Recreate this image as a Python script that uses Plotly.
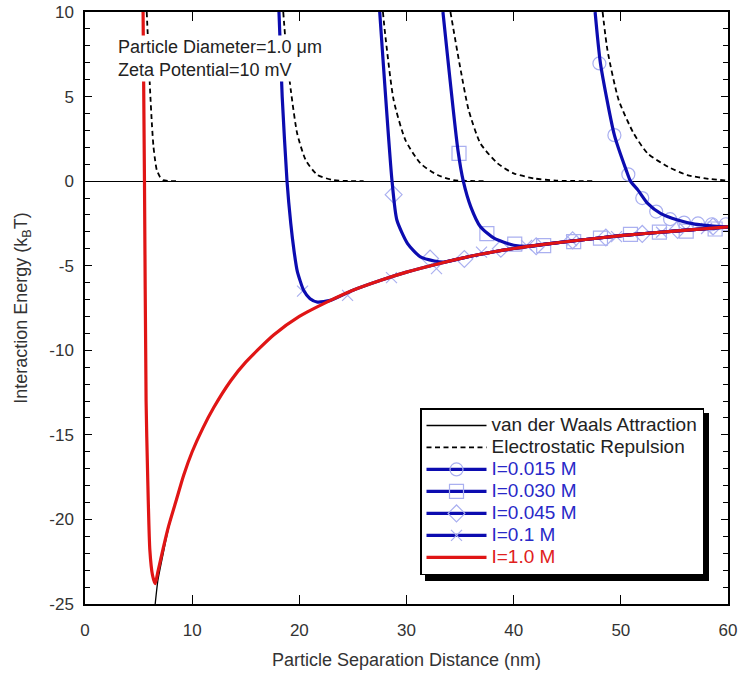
import plotly.graph_objects as go

# ---------------- data ----------------
# van der Waals attraction (black solid)
vdw_x = [6.55, 6.8, 7.3, 7.8, 8.5, 9.2, 10.0, 11.0, 12.0, 13.6, 15.0, 17.6, 20.0, 22.9, 25.0,
         27.6, 30.0, 33.0, 36.9, 40.0, 43.0, 46.3, 50.0, 55.0, 60.0]
vdw_y = [-25.0, -23.6, -22.0, -20.5, -18.9, -17.4, -16.0, -14.6, -13.4, -11.8, -10.7, -9.1, -8.0,
         -7.05, -6.45, -5.86, -5.38, -4.88, -4.32, -3.98, -3.72, -3.48, -3.22, -2.95, -2.7]

# electrostatic repulsion curves (black dashed), one per ionic strength
es1_x = [5.76, 5.9, 6.07, 6.25, 6.39, 6.55, 6.7, 7.0, 7.3, 7.8, 8.5]
es1_y = [10.0, 8.0, 5.4, 3.3, 2.03, 1.2, 0.65, 0.25, 0.06, 0.01, 0.0]
es2_x = [18.5, 18.8, 19.2, 19.8, 20.6, 21.7, 23.2, 24.5, 26.0]
es2_y = [10.0, 7.6, 5.4, 2.82, 1.24, 0.36, 0.06, 0.01, 0.0]
es3_x = [27.8, 28.0, 28.8, 29.9, 31.3, 32.9, 34.4, 36.0, 37.5]
es3_y = [10.0, 8.74, 4.79, 2.43, 1.05, 0.36, 0.06, 0.01, 0.0]
es4_x = [34.1, 35.0, 35.8, 36.9, 38.5, 40.0, 41.9, 44.0, 47.5]
es4_y = [10.0, 6.76, 4.2, 2.23, 1.05, 0.46, 0.16, 0.03, 0.0]
es5_x = [48.3, 48.75, 49.8, 51.2, 52.5, 54.4, 56.2, 58.4, 60.0]
es5_y = [10.0, 7.75, 4.79, 2.82, 1.64, 0.85, 0.36, 0.12, 0.03]

# total interaction energy curves
i015_x = [47.6, 48.1, 49.4, 50.5, 50.9, 51.6, 52.5, 53.7, 55.3, 56.9, 58.4, 60.0]
i015_y = [10.0, 6.96, 2.72, 0.65, 0.0, -0.53, -1.32, -1.91, -2.3, -2.54, -2.64, -2.7]
i030_x = [33.4, 34.8, 35.3, 36.0, 36.9, 38.2, 40.0, 41.6, 43.0, 46.3, 50.0, 55.0, 60.0]
i030_y = [10.0, 1.83, 0.0, -1.52, -2.7, -3.39, -3.79, -3.85, -3.72, -3.48, -3.22, -2.95, -2.7]
i045_x = [27.5, 28.65, 29.1, 30.1, 31.3, 32.6, 33.5, 34.4, 36.9, 40.0, 43.0, 46.3, 50.0, 55.0, 60.0]
i045_y = [10.0, 0.0, -2.3, -3.69, -4.48, -4.72, -4.78, -4.67, -4.32, -3.98, -3.72, -3.48, -3.22,
          -2.95, -2.7]
i01_x = [18.1, 18.4, 18.85, 19.2, 19.5, 19.8, 20.4, 21.0, 21.7, 22.9, 25.0, 27.6, 30.0, 33.0,
         36.9, 40.0, 43.0, 46.3, 50.0, 55.0, 60.0]
i01_y = [10.0, 5.0, 0.0, -2.5, -4.1, -5.3, -6.45, -6.95, -7.15, -7.05, -6.45, -5.86, -5.38, -4.88,
         -4.32, -3.98, -3.72, -3.48, -3.22, -2.95, -2.7]
i10_x = [5.42, 5.55, 5.7, 5.85, 6.05, 6.3, 6.55, 6.8, 7.3, 7.8, 8.5, 9.2, 10.0, 11.0, 12.0, 13.6,
         15.0, 17.6, 20.0, 22.9, 25.0, 27.6, 30.0, 33.0, 36.9, 40.0, 43.0, 46.3, 50.0, 55.0, 60.0]
i10_y = [10.0, 0.0, -13.0, -17.5, -21.8, -23.3, -23.8, -23.1, -21.7, -20.4, -18.9, -17.4, -16.0,
         -14.6, -13.4, -11.8, -10.7, -9.1, -8.0, -7.05, -6.45, -5.86, -5.38, -4.88, -4.32, -3.98,
         -3.72, -3.48, -3.22, -2.95, -2.7]

# sample markers (light blue symbols)
m015_x = [48.0, 49.4, 50.7, 52.0, 53.3, 54.6, 55.9, 57.2, 58.5, 59.8]
m015_y = [6.96, 2.72, 0.4, -1.0, -1.8, -2.25, -2.45, -2.5, -2.55, -2.55]
m030_x = [34.9, 37.5, 40.1, 42.8, 45.6, 48.1, 50.9, 53.6, 56.1, 58.8]
m030_y = [1.64, -3.1, -3.72, -3.81, -3.58, -3.37, -3.15, -3.02, -2.95, -2.83]
m045_x = [28.8, 32.2, 35.4, 38.8, 42.1, 45.5, 48.6, 52.0, 55.3, 58.6]
m045_y = [-0.8, -4.58, -4.6, -4.0, -3.85, -3.5, -3.33, -3.12, -2.88, -2.68]
m01_x = [20.3, 24.5, 28.6, 32.8, 37.0, 41.2, 45.4, 49.6, 53.8, 58.0]
m01_y = [-6.5, -6.75, -5.7, -5.17, -4.2, -3.8, -3.52, -3.28, -3.02, -2.8]

legend_names = ["van der Waals Attraction", "Electrostatic Repulsion", "I=0.015 M", "I=0.030 M",
                "I=0.045 M", "I=0.1 M", "I=1.0 M"]
x_ticks = [0, 10, 20, 30, 40, 50, 60]
y_ticks = [-25, -20, -15, -10, -5, 0, 5, 10]
y_tick_labels = ["-25", "-20", "-15", "-10", "-5", "0", "5", "10"]
note_lines = ["Particle Diameter=1.0 μm", "Zeta Potential=10 mV"]

# ---------------- styling ----------------
FONT = "Arial, 'Liberation Sans', sans-serif"
BLUE = "#0c0cb0"
RED = "#e01515"
MARK = "#aab0f0"
BLUE_TXT = "#2828c8"
RED_TXT = "#e02020"
DASH = "5px,3.5px"
LEG_TXT = "font-size:19px"

fig = go.Figure()

fig.add_trace(go.Scatter(x=vdw_x, y=vdw_y, mode="lines", line=dict(color="black", width=1.3,
                                                                   shape="spline", smoothing=0.5),
                         showlegend=False, hoverinfo="skip"))
for ex, ey in [(es1_x, es1_y), (es2_x, es2_y), (es3_x, es3_y), (es4_x, es4_y), (es5_x, es5_y)]:
    fig.add_trace(go.Scatter(x=ex, y=ey, mode="lines", line=dict(color="black", width=1.8, dash=DASH,
                                                                 shape="spline", smoothing=0.6),
                             showlegend=False))
for mx, my, sym, sz in [(m015_x, m015_y, "circle-open", 13), (m030_x, m030_y, "square-open", 14),
                        (m045_x, m045_y, "diamond-open", 13), (m01_x, m01_y, "x-thin-open", 11)]:
    fig.add_trace(go.Scatter(x=mx, y=my, mode="markers",
                             marker=dict(symbol=sym, size=sz, color=MARK, line=dict(color=MARK, width=1.2)),
                             showlegend=False))
for bx, by in [(i015_x, i015_y), (i030_x, i030_y), (i045_x, i045_y), (i01_x, i01_y)]:
    fig.add_trace(go.Scatter(x=bx, y=by, mode="lines", line=dict(color=BLUE, width=3.2, shape="spline",
                                                                 smoothing=0.6),
                             showlegend=False))
fig.add_trace(go.Scatter(x=i10_x, y=i10_y, mode="lines", line=dict(color=RED, width=3.2, shape="spline",
                                                                   smoothing=0.6),
                         showlegend=False))

# legend-only entries
fig.add_trace(go.Scatter(x=[None], y=[None], mode="lines",
                         name=f"<span style='{LEG_TXT}'>{legend_names[0]}</span>",
                         line=dict(color="black", width=1.3)))
fig.add_trace(go.Scatter(x=[None], y=[None], mode="lines",
                         name=f"<span style='{LEG_TXT}'>{legend_names[1]}</span>",
                         line=dict(color="black", width=1.8, dash=DASH)))
for nm, sym, sz in [(legend_names[2], "circle-open", 13), (legend_names[3], "square-open", 14),
                    (legend_names[4], "diamond-open", 13), (legend_names[5], "x-thin-open", 11)]:
    fig.add_trace(go.Scatter(x=[None], y=[None], mode="lines+markers",
                             name=f"<span style='color:{BLUE_TXT};{LEG_TXT}'>{nm}</span>",
                             line=dict(color=BLUE, width=3.2),
                             marker=dict(symbol=sym, size=sz, color=MARK, line=dict(color=MARK, width=1.2))))
fig.add_trace(go.Scatter(x=[None], y=[None], mode="lines",
                         name=f"<span style='color:{RED_TXT};{LEG_TXT}'>{legend_names[6]}</span>",
                         line=dict(color=RED, width=3.2)))

# plot-area pixel geometry
L, R, T, B = 85, 12, 12, 71
W, H = 740 - L - R, 675 - T - B

def px_to_paper(px, py):
    return (px - L) / W, 1 - (py - T) / H

sx0, sy0 = px_to_paper(425, 413)
sx1, sy1 = px_to_paper(709, 581)
fig.add_shape(type="rect", xref="paper", yref="paper", x0=sx0, y0=sy1, x1=sx1, y1=sy0,
              fillcolor="black", line=dict(width=0), layer="above")

lx, ly = px_to_paper(420, 408)

axis_common = dict(showline=True, linecolor="black", linewidth=1.5, mirror="ticks", ticks="inside",
                   tickcolor="black", showgrid=False, automargin=False,
                   tickfont=dict(family=FONT, size=17, color="#333333"))

fig.update_layout(
    width=740, height=675,
    margin=dict(l=L, r=R, t=T, b=B, autoexpand=False),
    paper_bgcolor="white", plot_bgcolor="white",
    font=dict(family=FONT, size=18, color="#222222"),
    showlegend=True,
    legend=dict(x=lx, y=ly, xanchor="left", yanchor="top", bgcolor="white",
                bordercolor="black", borderwidth=1.5, traceorder="normal",
                font=dict(family=FONT, size=14.6, color="#222222"), itemwidth=60,
                tracegroupgap=0),
    xaxis=dict(range=[0, 60], tickvals=x_ticks, ticklen=9, tickwidth=1.3, zeroline=False,
               ticklabelstandoff=10,
               title=dict(text="Particle Separation Distance (nm)", font=dict(family=FONT, size=18, color="#333333"),
                          standoff=14),
               **axis_common),
    yaxis=dict(range=[-25, 10], tickvals=y_ticks, ticktext=y_tick_labels, ticklen=7, tickwidth=1.3,
               zeroline=True, zerolinecolor="black", zerolinewidth=1.3,
               ticklabelstandoff=6,
               minor=dict(dtick=1, ticks="inside", ticklen=5, tickcolor="black", tickwidth=1),
               title=dict(text="Interaction Energy (k<sub>B</sub>T)", font=dict(family=FONT, size=18, color="#333333"),
                          standoff=17),
               **axis_common),
)

fig.add_annotation(x=2.9, y=8.65, xref="x", yref="y", xanchor="left", yanchor="top",
                   text="<br>".join(note_lines), showarrow=False, align="left",
                   bgcolor="white", borderpad=1,
                   font=dict(family=FONT, size=18, color="#222222"))

fig.write_html("out.html")
